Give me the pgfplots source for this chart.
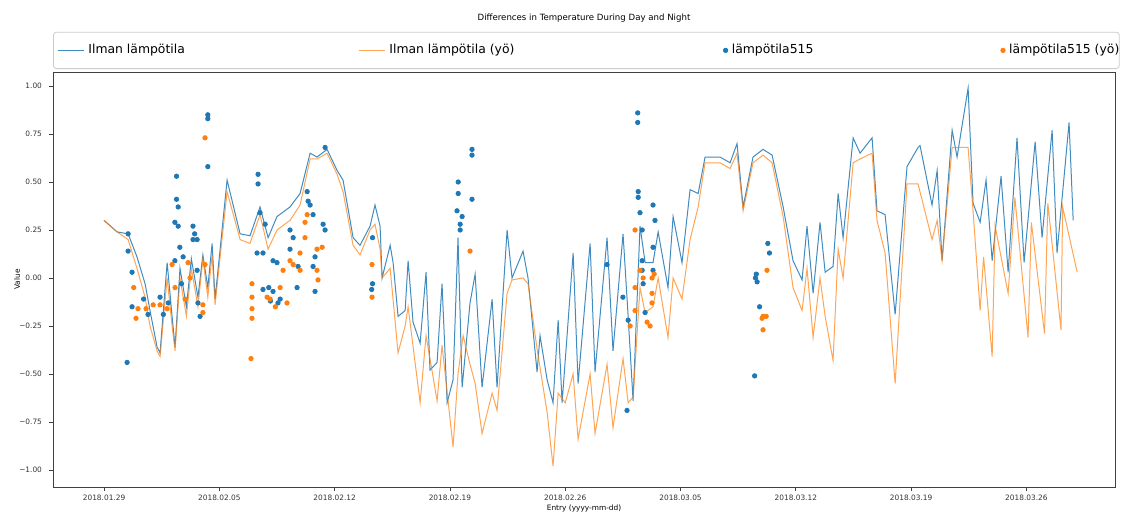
\documentclass[border=0pt]{standalone}
\usepackage{pgfplots}
\pgfplotsset{compat=1.18}
\usepackage{fontspec}
\setmainfont{DejaVu Sans}
\definecolor{mblue}{HTML}{1F77B4}
\definecolor{morange}{HTML}{FF7F0E}
\begin{document}
\begin{tikzpicture}
\useasboundingbox (-26.5pt,-12pt) rectangle (534.5pt,243.5pt);
\begin{axis}[
  scale only axis, width=531pt, height=207.5pt,
  xmin=-3.10, xmax=61.38, ymin=-1.089, ymax=1.073,
  axis line style={black!75, line width=0.4pt},
  tick style={black!75, line width=0.4pt},
  tick align=outside, major tick length=2pt,
  xtick pos=bottom, ytick pos=left,
  xtick={0,7,14,21,28,35,42,49,56},
  xticklabels={2018.01.29,2018.02.05,2018.02.12,2018.02.19,2018.02.26,2018.03.05,2018.03.12,2018.03.19,2018.03.26},
  ytick={-1,-0.75,-0.5,-0.25,0,0.25,0.5,0.75,1},
  yticklabels={−1.00,−0.75,−0.50,−0.25,0.00,0.25,0.50,0.75,1.00},
  tick label style={font=\fontsize{3.7}{4}\selectfont, black!80},
  xticklabel style={yshift=1.5pt},
  title={Differences in Temperature During Day and Night},
  title style={at={(0.5,1)}, anchor=center, yshift=21pt, font=\fontsize{4.3}{5}\selectfont},
  xlabel={Entry (yyyy-mm-dd)},
  ylabel={Value},
  every axis x label/.style={at={(rel axis cs:0.5,0)}, yshift=-10.5pt, anchor=center, font=\fontsize{3.7}{4}\selectfont},
  every axis y label/.style={at={(rel axis cs:0,0.5)}, xshift=-18pt, rotate=90, anchor=center, font=\fontsize{3.7}{4}\selectfont},
  legend columns=4,
  legend cell align=left,
  legend image code/.code={\draw[mark repeat=2,mark phase=2,#1] plot coordinates {(0pt,0pt) (6.5pt,0pt) (13pt,0pt)};},
  legend style={at={(0,1)}, anchor=south west, yshift=1.5pt, draw=black!20, rounded corners=1.5pt,
    font=\fontsize{6.2}{7}\selectfont, inner ysep=4pt, inner xsep=2pt,
    /tikz/every even column/.append style={column sep=0pt}},
]
\addplot[mblue, line width=0.5pt, opacity=0.85] coordinates {
(0,0.30)(0.79,0.24)(1.46,0.23)(2.0,0.11)(2.49,-0.03)(2.79,-0.17)(3.22,-0.36)(3.40,-0.39)(3.83,0.08)(4.13,-0.20)(4.31,-0.36)(4.61,0.05)(5.0,-0.15)(5.3,0.10)(5.7,-0.10)(6.0,0.12)(6.3,-0.05)(6.56,0.18)(6.74,-0.11)(7.47,0.51)(8.26,0.23)(8.86,0.22)(9.47,0.37)(9.96,0.21)(10.50,0.32)(11.29,0.37)(11.90,0.44)(12.51,0.65)(12.93,0.63)(13.54,0.67)(14.15,0.56)(14.51,0.51)(15.12,0.21)(15.54,0.17)(16.15,0.27)(16.45,0.38)(16.76,0.27)(16.88,0.0)(17.37,0.17)(17.55,0.08)(17.85,-0.20)(18.28,-0.17)(18.46,0.09)(18.76,-0.23)(19.19,-0.34)(19.55,0.03)(19.79,-0.48)(20.22,-0.44)(20.52,-0.03)(20.83,-0.65)(21.19,-0.53)(21.49,0.21)(21.74,-0.57)(22.22,-0.13)(22.53,0.02)(22.95,-0.57)(23.56,-0.11)(23.86,-0.57)(24.47,0.25)(24.77,0.0)(25.44,0.14)(25.74,0.0)(26.29,-0.49)(26.47,-0.30)(26.90,-0.53)(27.26,-0.65)(27.57,-0.22)(27.81,-0.65)(28.48,0.13)(28.78,-0.55)(29.51,0.18)(29.81,-0.49)(30.54,0.21)(30.90,-0.38)(31.51,0.23)(31.82,-0.20)(32.12,-0.64)(32.54,0.27)(32.85,0.08)(33.33,0.08)(33.64,0.24)(34.24,-0.05)(34.55,0.32)(35.09,0.08)(35.58,0.46)(36.07,0.44)(36.49,0.63)(37.40,0.63)(38.01,0.60)(38.43,0.70)(38.80,0.37)(39.40,0.63)(40.01,0.67)(40.56,0.64)(41.23,0.37)(41.83,0.09)(42.38,-0.01)(42.68,0.27)(43.05,-0.08)(43.47,0.29)(43.78,0.03)(44.26,0.06)(44.57,0.44)(44.87,0.21)(45.48,0.73)(45.90,0.65)(46.63,0.73)(46.93,0.35)(47.42,0.33)(48.03,-0.19)(48.75,0.58)(49.42,0.68)(49.54,0.69)(50.27,0.38)(50.58,0.56)(50.88,0.09)(51.49,0.77)(51.79,0.63)(52.46,0.99)(52.76,0.39)(53.19,0.29)(53.55,0.51)(53.92,0.09)(54.46,0.53)(54.89,0.03)(55.43,0.73)(55.86,0.08)(56.53,0.71)(56.95,0.21)(57.56,0.77)(57.86,0.13)(58.59,0.81)(58.84,0.30)
};
\addlegendentry{\makebox[133pt][l]{Ilman lämpötila}}
\addplot[morange, line width=0.5pt, opacity=0.7] coordinates {
(0,0.30)(0.79,0.24)(1.46,0.20)(2.0,0.05)(2.49,-0.10)(2.79,-0.25)(3.22,-0.38)(3.40,-0.41)(3.83,0.0)(4.13,-0.25)(4.31,-0.38)(4.61,0.0)(5.0,-0.2)(5.3,0.05)(5.7,-0.15)(6.0,0.10)(6.3,-0.1)(6.56,0.12)(6.74,-0.14)(7.47,0.45)(8.26,0.20)(8.86,0.18)(9.47,0.33)(9.96,0.15)(10.50,0.25)(11.29,0.30)(11.90,0.38)(12.51,0.62)(12.93,0.62)(13.54,0.65)(14.15,0.54)(14.51,0.45)(15.12,0.17)(15.54,0.12)(16.15,0.25)(16.45,0.28)(16.76,0.15)(16.88,0.0)(17.37,0.05)(17.85,-0.39)(18.28,-0.25)(18.46,-0.15)(19.19,-0.65)(19.55,-0.3)(20.22,-0.64)(20.52,-0.35)(21.19,-0.88)(21.49,-0.50)(21.8,-0.30)(22.22,-0.45)(22.53,-0.55)(22.95,-0.81)(23.56,-0.6)(23.86,-0.69)(24.47,-0.08)(24.77,-0.01)(25.44,0.0)(25.74,-0.03)(26.29,-0.37)(26.90,-0.70)(27.26,-0.98)(27.57,-0.6)(28.0,-0.65)(28.48,-0.5)(28.78,-0.84)(29.51,-0.5)(29.81,-0.81)(30.54,-0.45)(30.9,-0.78)(31.51,-0.42)(31.82,-0.65)(32.12,-0.62)(32.54,-0.05)(32.85,-0.18)(33.33,-0.15)(33.64,0.0)(34.24,-0.31)(34.55,0.0)(35.09,-0.11)(35.58,0.20)(36.07,0.37)(36.49,0.60)(37.40,0.60)(38.01,0.57)(38.43,0.65)(38.80,0.35)(39.40,0.60)(40.01,0.64)(40.56,0.60)(41.23,0.32)(41.83,-0.05)(42.38,-0.17)(42.68,0.05)(43.05,-0.31)(43.47,0.0)(43.78,-0.20)(44.26,-0.43)(44.57,0.15)(44.87,0.0)(45.48,0.60)(45.90,0.62)(46.63,0.65)(46.93,0.30)(47.42,0.13)(48.03,-0.55)(48.75,0.49)(49.42,0.49)(50.27,0.20)(50.58,0.30)(50.88,0.09)(51.49,0.68)(52.46,0.68)(52.76,0.35)(53.19,-0.17)(53.4,0.11)(53.92,-0.41)(54.1,0.27)(54.89,-0.08)(55.3,0.42)(56.1,-0.31)(56.3,0.29)(57.1,-0.29)(57.3,0.39)(58.1,-0.27)(58.2,0.37)(59.08,0.03)
};
\addlegendentry{\makebox[165pt][l]{Ilman lämpötila (yö)}}
\addplot[only marks, mark=*, mark size=1.1pt, mblue, mark options={draw=mblue, fill=mblue}] coordinates {
(1.46,0.23)(1.46,0.14)(1.7,0.03)(1.7,-0.15)(2.4,-0.11)(2.67,-0.19)(1.4,-0.44)(3.4,-0.10)(3.6,-0.19)(3.9,-0.13)(4.3,0.09)(4.4,0.53)(4.4,0.41)(4.5,0.37)(4.3,0.29)(4.5,0.27)(4.6,0.16)(4.8,0.11)(4.7,-0.03)(5.4,0.27)(5.5,0.23)(5.65,0.20)(5.4,0.20)(5.65,0.04)(5.7,-0.13)(5.83,-0.20)(6.3,0.83)(6.3,0.85)(6.3,0.58)
(9.35,0.54)(9.35,0.49)(9.47,0.34)(9.29,0.13)(9.65,0.13)(9.78,0.28)(9.65,-0.06)(10.26,0.09)(10.5,0.08)(10.26,-0.07)(10.69,-0.11)(10.56,-0.13)(11.29,0.25)(11.48,0.21)(11.29,0.15)(11.78,0.06)(11.72,-0.05)(12.33,0.45)(12.39,0.40)(12.51,0.38)(12.69,0.33)(13.30,0.28)(13.42,0.25)(12.81,0.11)(12.69,0.06)(12.81,-0.07)(13.42,0.68)(10.0,-0.05)(10.1,-0.12)
(16.3,0.21)(16.3,-0.03)(16.25,-0.06)(21.5,0.50)(21.5,0.44)(21.43,0.35)(21.74,0.32)(21.62,0.28)(21.62,0.25)(22.34,0.67)(22.34,0.64)(22.34,0.41)
(30.54,0.07)(31.75,-0.69)(31.82,-0.22)(31.5,-0.10)(32.4,0.86)(32.4,0.81)(32.43,0.45)(32.43,0.42)(32.54,0.34)(32.67,0.25)(32.67,0.09)(32.67,0.04)(32.73,-0.03)(32.85,-0.18)(33.33,0.38)(33.45,0.30)(33.33,0.16)(33.33,0.04)
(40.3,0.18)(40.4,0.13)(39.6,0.02)(39.65,-0.02)(39.8,-0.15)(39.5,-0.51)(39.55,0.0)
};
\addlegendentry{\makebox[132.5pt][l]{lämpötila515}}
\addplot[only marks, mark=*, mark size=1.1pt, morange, mark options={draw=morange, fill=morange}] coordinates {
(1.8,-0.05)(2.06,-0.16)(1.94,-0.21)(2.55,-0.16)(2.98,-0.14)(3.4,-0.14)(3.83,-0.16)(4.13,0.07)(4.31,-0.05)(4.92,-0.11)(5.1,0.08)(5.22,0.0)(6.0,-0.14)(6.13,0.07)(6.13,0.73)(6.0,-0.18)
(8.98,-0.03)(8.98,-0.10)(8.98,-0.16)(8.98,-0.21)(8.92,-0.42)(9.9,-0.10)(10.08,-0.11)(10.69,-0.05)(10.87,0.04)(11.29,0.09)(11.48,0.07)(11.9,0.13)(11.9,0.04)(12.2,0.21)(12.33,0.33)(12.2,0.29)(12.93,0.15)(13.24,0.16)(12.93,0.04)(12.99,-0.01)(11.11,-0.13)(10.4,-0.15)
(16.27,0.07)(16.27,-0.10)(22.22,0.14)
(32.24,0.25)(32.24,-0.05)(32.24,-0.17)(32.54,0.04)(32.73,0.0)(33.27,0.0)(33.27,-0.08)(33.27,-0.13)(32.97,-0.23)(33.15,-0.25)(31.94,-0.25)(33.4,0.02)
(40.25,0.04)(40.01,-0.20)(39.95,-0.21)(40.01,-0.27)(40.2,-0.2)
};
\addlegendentry{\makebox[51pt][l]{lämpötila515 (yö)}}
\end{axis}
\end{tikzpicture}
\end{document}
